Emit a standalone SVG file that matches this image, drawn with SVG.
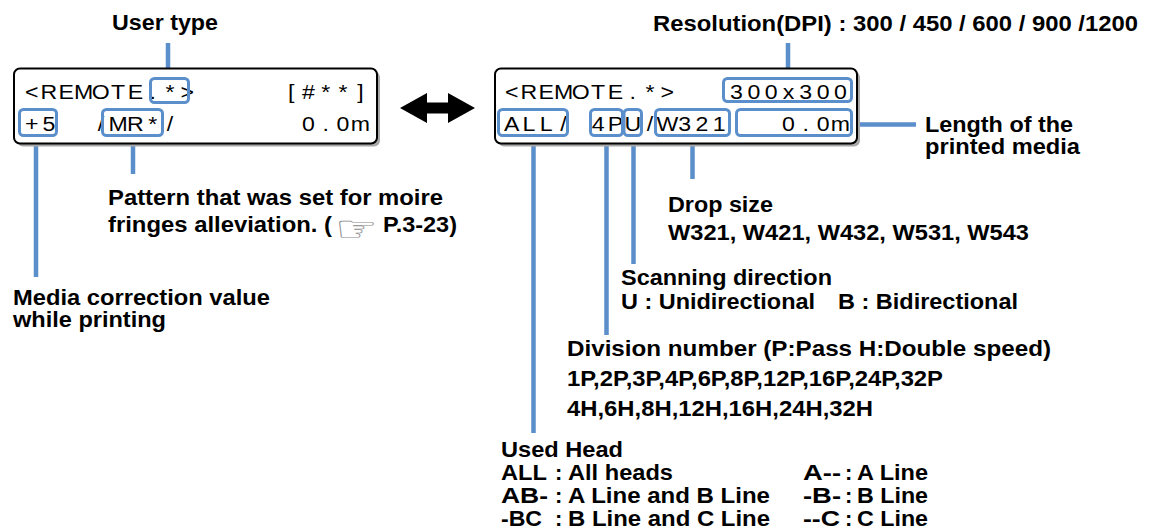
<svg xmlns="http://www.w3.org/2000/svg" width="1154" height="530" viewBox="0 0 1154 530">
<style>
.lbl{font-family:"Liberation Sans",Arial,sans-serif;font-weight:bold;font-size:22px;fill:#000}
.lcd{font-family:"Liberation Sans",Arial,sans-serif;font-size:21px;fill:#000;text-anchor:middle}
.hl{fill:none;stroke:#5b8fcb;stroke-width:3}
.panel{fill:#fff;stroke:#000;stroke-width:2}
.shadow{fill:#a8a8a8}
#connectors line{stroke:#5b8fcb;stroke-width:4.5}
</style>
<rect width="1154" height="530" fill="#fff"/>

<g id="connectors">
  <line x1="168" y1="43" x2="168" y2="77"/>
  <line x1="36" y1="137" x2="36" y2="277"/>
  <line x1="133" y1="137" x2="133" y2="174"/>
  <line x1="788" y1="43" x2="788" y2="77"/>
  <line x1="853" y1="124.5" x2="916" y2="124.5"/>
  <line x1="533.5" y1="137" x2="533.5" y2="433"/>
  <line x1="606.5" y1="137" x2="606.5" y2="335"/>
  <line x1="633.5" y1="137" x2="633.5" y2="264"/>
  <line x1="692.5" y1="137" x2="692.5" y2="179"/>
</g>

<g id="panel-left">
  <rect class="shadow" x="17" y="71.5" width="363" height="75" rx="6"/>
  <rect class="panel" x="14" y="68.5" width="363" height="75" rx="6"/>
  <g transform="scale(1.1,1)">
    <text class="lcd" y="99.5" x="28.77 44.5 60.23 75.95 91.68 107.41 123.14 138.86 154.59 170.32">&lt;REMOTE.*&gt;</text>
    <text class="lcd" y="99.5" x="264.68 280.41 296.14 311.86 327.59">[#**]</text>
    <text class="lcd" y="131.5" x="28.77 44.5">+5</text>
    <text class="lcd" y="131.5" x="91.68 107.41 123.14 138.86 154.59">/MR*/</text>
    <text class="lcd" y="131.5" x="280.41 296.14 311.86 327.59">0.0m</text>
  </g>
  <rect class="hl" x="150.5" y="78.5" width="38" height="24" rx="4"/>
  <rect class="hl" x="19.5" y="109.5" width="37" height="26" rx="4"/>
  <rect class="hl" x="102.5" y="109.5" width="60" height="26" rx="4"/>
</g>

<g id="double-arrow">
  <polygon points="400,108 427,93 427,102.5 448,102.5 448,93 475,108 448,123 448,113.5 427,113.5 427,123" fill="#000"/>
</g>

<g id="panel-right">
  <rect class="shadow" x="498" y="71.5" width="362" height="75" rx="6"/>
  <rect class="panel" x="495" y="68.5" width="362" height="75" rx="6"/>
  <g transform="scale(1.1,1)">
    <text class="lcd" y="99.5" x="465.14 480.86 496.59 512.32 528.05 543.77 559.50 575.23 590.95 606.68">&lt;REMOTE.*&gt;</text>
    <text class="lcd" y="99.5" x="669.59 685.32 701.05 716.77 732.50 748.23 763.95">300x300</text>
    <text class="lcd" y="131.5" x="465.14 480.86 496.59 512.32">ALL/</text>
    <text class="lcd" y="131.5" x="543.77 559.50 575.23 590.95">4PU/</text>
    <text class="lcd" y="131.5" x="606.68 622.41 638.14 653.86">W321</text>
    <text class="lcd" y="131.5" x="716.77 732.50 748.23 763.95">0.0m</text>
  </g>
  <rect class="hl" x="723.5" y="78.5" width="128" height="23" rx="4"/>
  <rect class="hl" x="498.5" y="109.5" width="69" height="26" rx="4"/>
  <rect class="hl" x="590.5" y="109.5" width="32" height="26" rx="4"/>
  <rect class="hl" x="624" y="109.5" width="17.5" height="26" rx="4"/>
  <rect class="hl" x="655.5" y="109.5" width="74" height="26" rx="4"/>
  <rect class="hl" x="736.5" y="109.5" width="115" height="26" rx="4"/>
</g>

<g id="label-user-type">
  <text class="lbl" x="112" y="30" textLength="106" lengthAdjust="spacingAndGlyphs">User type</text>
</g>
<g id="label-resolution">
  <text class="lbl" x="653" y="30.5" textLength="485" lengthAdjust="spacingAndGlyphs">Resolution(DPI) : 300 / 450 / 600 / 900 /1200</text>
</g>
<g id="label-length">
  <text class="lbl" x="925" y="132" textLength="148" lengthAdjust="spacingAndGlyphs">Length of the</text>
  <text class="lbl" x="925" y="154" textLength="155" lengthAdjust="spacingAndGlyphs">printed media</text>
</g>
<g id="label-pattern">
  <text class="lbl" x="108" y="205" textLength="335" lengthAdjust="spacingAndGlyphs">Pattern that was set for moire</text>
  <text class="lbl" x="108" y="232" textLength="224" lengthAdjust="spacingAndGlyphs">fringes alleviation. (</text>
  <text x="335" y="241" font-family="DejaVu Sans, sans-serif" font-size="36" fill="#888" textLength="43" lengthAdjust="spacingAndGlyphs">☞</text>
  <text class="lbl" x="383" y="232" textLength="74" lengthAdjust="spacingAndGlyphs">P.3-23)</text>
</g>
<g id="label-media-correction">
  <text class="lbl" x="13" y="305" textLength="257" lengthAdjust="spacingAndGlyphs">Media correction value</text>
  <text class="lbl" x="13" y="327" textLength="153" lengthAdjust="spacingAndGlyphs">while printing</text>
</g>
<g id="label-drop-size">
  <text class="lbl" x="668" y="212" textLength="105" lengthAdjust="spacingAndGlyphs">Drop size</text>
  <text class="lbl" x="668" y="240" textLength="361" lengthAdjust="spacingAndGlyphs">W321, W421, W432, W531, W543</text>
</g>
<g id="label-scanning">
  <text class="lbl" x="621" y="285" textLength="211" lengthAdjust="spacingAndGlyphs">Scanning direction</text>
  <text class="lbl" x="621" y="309" textLength="194" lengthAdjust="spacingAndGlyphs">U : Unidirectional</text>
  <text class="lbl" x="838" y="309" textLength="180" lengthAdjust="spacingAndGlyphs">B : Bidirectional</text>
</g>
<g id="label-division">
  <text class="lbl" x="567" y="356" textLength="484" lengthAdjust="spacingAndGlyphs">Division number (P:Pass H:Double speed)</text>
  <text class="lbl" x="567" y="386" textLength="376" lengthAdjust="spacingAndGlyphs">1P,2P,3P,4P,6P,8P,12P,16P,24P,32P</text>
  <text class="lbl" x="567" y="416" textLength="306" lengthAdjust="spacingAndGlyphs">4H,6H,8H,12H,16H,24H,32H</text>
</g>
<g id="label-used-head">
  <text class="lbl" x="501" y="457" textLength="122" lengthAdjust="spacingAndGlyphs">Used Head</text>
  <text class="lbl" x="501" y="480" textLength="46" lengthAdjust="spacingAndGlyphs">ALL</text>
  <text class="lbl" x="555" y="480">:</text>
  <text class="lbl" x="568" y="480" textLength="105" lengthAdjust="spacingAndGlyphs">All heads</text>
  <text class="lbl" x="803" y="480" textLength="38" lengthAdjust="spacingAndGlyphs">A--</text>
  <text class="lbl" x="845" y="480">:</text>
  <text class="lbl" x="857" y="480" textLength="71" lengthAdjust="spacingAndGlyphs">A Line</text>
  <text class="lbl" x="501" y="503" textLength="47" lengthAdjust="spacingAndGlyphs">AB-</text>
  <text class="lbl" x="555" y="503">:</text>
  <text class="lbl" x="568" y="503" textLength="202" lengthAdjust="spacingAndGlyphs">A Line and B Line</text>
  <text class="lbl" x="803" y="503" textLength="38" lengthAdjust="spacingAndGlyphs">-B-</text>
  <text class="lbl" x="845" y="503">:</text>
  <text class="lbl" x="857" y="503" textLength="71" lengthAdjust="spacingAndGlyphs">B Line</text>
  <text class="lbl" x="501" y="526" textLength="41" lengthAdjust="spacingAndGlyphs">-BC</text>
  <text class="lbl" x="555" y="526">:</text>
  <text class="lbl" x="568" y="526" textLength="202" lengthAdjust="spacingAndGlyphs">B Line and C Line</text>
  <text class="lbl" x="803" y="526" textLength="37" lengthAdjust="spacingAndGlyphs">--C</text>
  <text class="lbl" x="845" y="526">:</text>
  <text class="lbl" x="857" y="526" textLength="71" lengthAdjust="spacingAndGlyphs">C Line</text>
</g>
</svg>
